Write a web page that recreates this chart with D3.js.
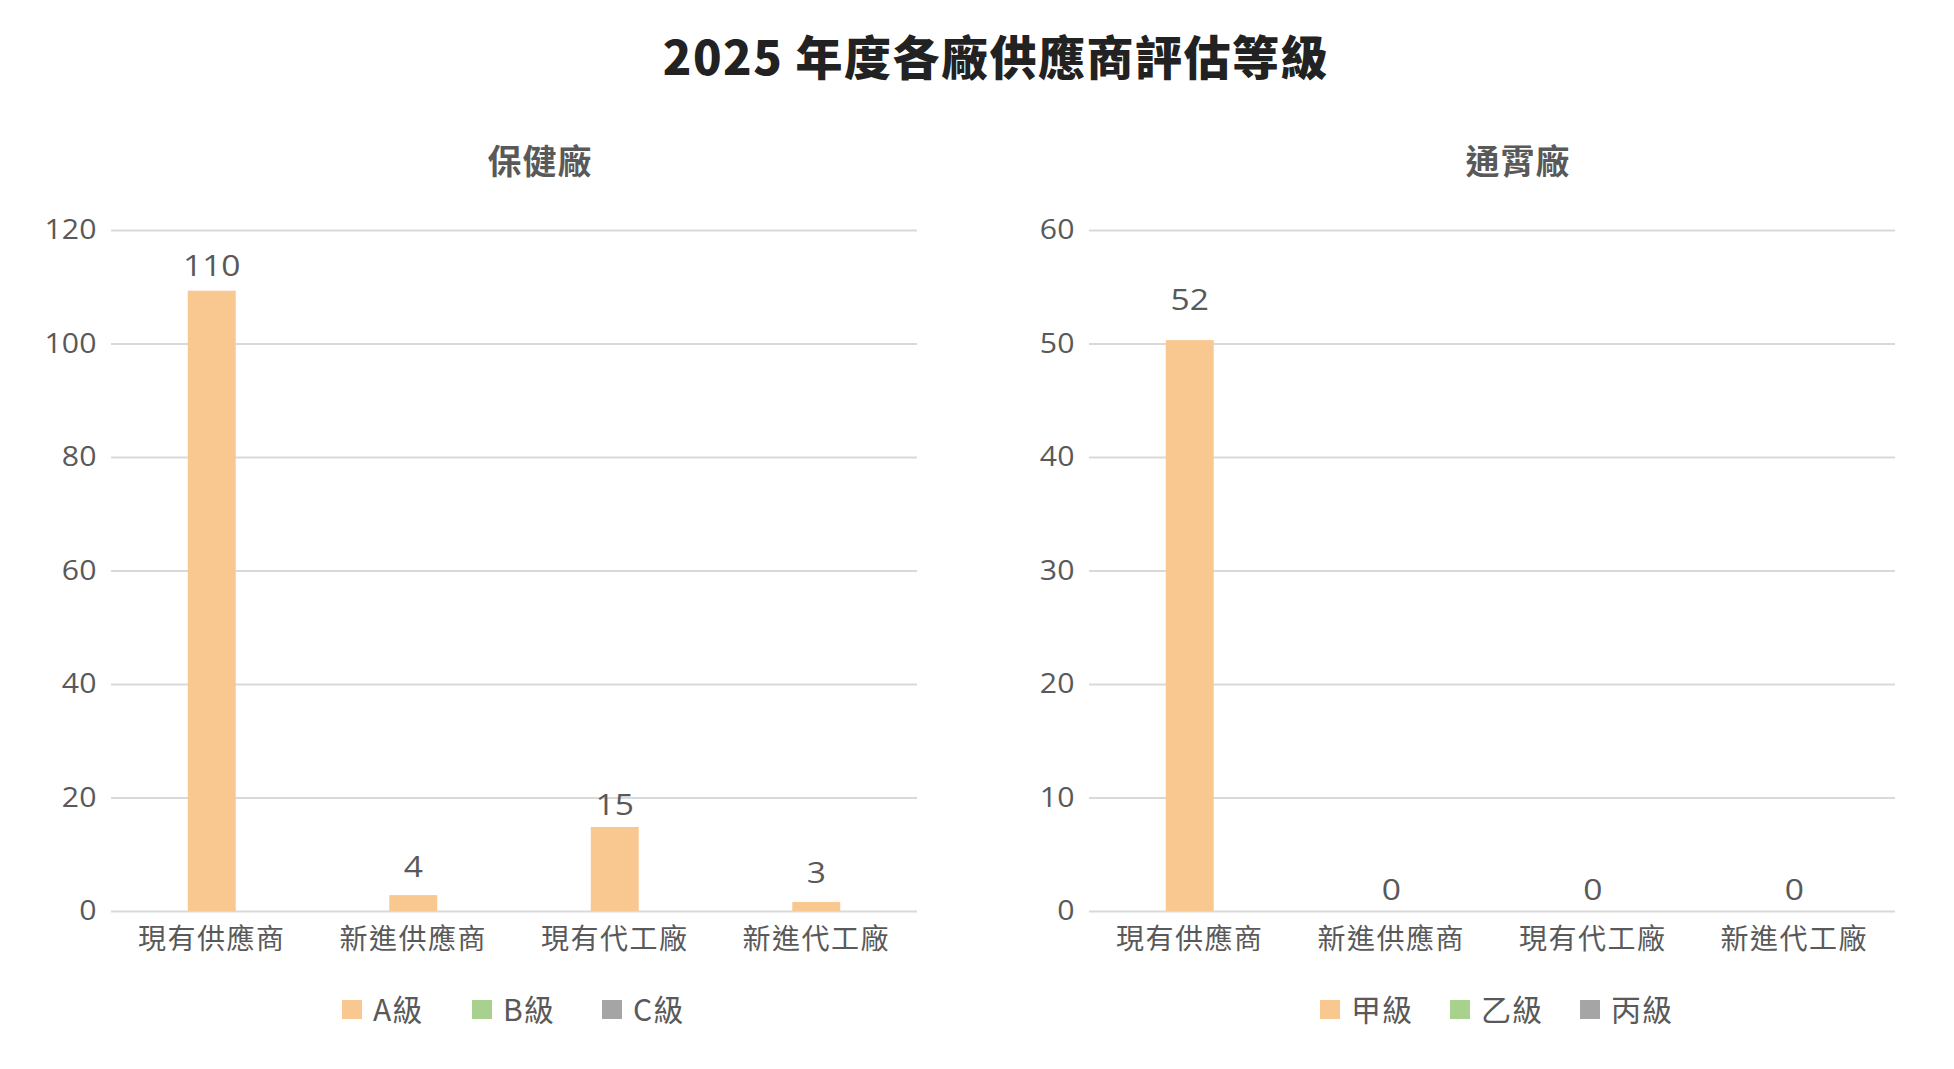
<!DOCTYPE html>
<html>
<head>
<meta charset="utf-8">
<script src="https://cdn.jsdelivr.net/npm/d3@7"></script>
<style>
  html, body { margin: 0; padding: 0; background: #fff; }
  svg { display: block; }
</style>
</head>
<body>
<svg width="1954" height="1069"></svg>
<script>
var categories = ["現有供應商", "新進供應商", "現有代工廠", "新進代工廠"];

// 保健廠
var baojianSeries = ["A級", "B級", "C級"];
var baojianA = [109.3, 2.8, 14.8, 1.6];   // bar heights as drawn
var baojianB = [0, 0, 0, 0];
var baojianC = [0, 0, 0, 0];
var baojianLabels = [110, 4, 15, 3];      // printed values
var baojianTicks = [0, 20, 40, 60, 80, 100, 120];

// 通霄廠
var tongxiaoSeries = ["甲級", "乙級", "丙級"];
var tongxiaoA = [50.3, 0, 0, 0];
var tongxiaoB = [0, 0, 0, 0];
var tongxiaoC = [0, 0, 0, 0];
var tongxiaoLabels = [52, 0, 0, 0];
var tongxiaoTicks = [0, 10, 20, 30, 40, 50, 60];

;(function(){

    var svg = d3.select("svg");
    var colors = ["#F8C890", "#A9D18E", "#A5A5A5"];
    var textColor = "#595959";
    var cjk = "'Noto Sans CJK TC', 'Noto Sans', sans-serif";
    var num = "'Open Sans', 'Noto Sans', sans-serif";
    var NUM_SX = 1.12;   // digits in the picture are drawn a bit wide

    svg.append("text")
        .attr("x", 996)
        .attr("y", 75)
        .attr("text-anchor", "middle")
        .attr("font-family", cjk)
        .attr("font-weight", 900)
        .attr("font-size", 47)
        .attr("letter-spacing", 1.5)
        .attr("fill", "#222")
        .text("2025 年度各廠供應商評估等級");

    function drawPanel(opt){
        var margin = {left: opt.left, top: 230},
            width = 806,
            height = 681,
            g = svg.append("g").attr("transform", "translate(" + margin.left + "," + margin.top + ")");

        var rows = categories.map(function(c, i){
            var r = {category: c};
            opt.series.forEach(function(s, j){ r[s] = opt.values[j][i]; });
            return r;
        });
        var stacked = d3.stack().keys(opt.series)(rows);

        var x = d3.scaleBand()
            .domain(categories)
            .range([0, width])
            .paddingInner(0.762)
            .paddingOuter(0.381);

        var y = d3.scaleLinear()
            .domain([0, d3.max(opt.ticks)])
            .range([height, 0]);

        // 背景線 + y軸
        var yAxis = g.append("g")
            .call(d3.axisLeft(y)
                .tickValues(opt.ticks)
                .tickSize(-width)
                .tickPadding(13));
        yAxis.select(".domain").remove();
        yAxis.selectAll(".tick line")
            .attr("stroke", "#D9D9D9")
            .attr("stroke-width", 2);
        yAxis.selectAll(".tick text")
            .attr("font-family", num)
            .attr("font-size", 27)
            .attr("fill", textColor)
            .attr("transform", "scale(" + NUM_SX + ",1)");

        // x軸
        var xAxis = g.append("g")
            .attr("transform", "translate(0," + height + ")")
            .call(d3.axisBottom(x).tickSize(0).tickPadding(18));
        xAxis.select(".domain").remove();
        xAxis.selectAll(".tick text")
            .attr("font-family", cjk)
            .attr("font-size", 28)
            .attr("letter-spacing", 1.5)
            .attr("fill", textColor);

        g.selectAll(".layer")
            .data(stacked)
            .enter().append("g")
            .attr("class", "layer")
            .attr("fill", function(d, i){ return colors[i]; })
            .selectAll("rect")
            .data(function(d){ return d; })
            .enter().append("rect")
            .attr("x", function(d){ return x(d.data.category); })
            .attr("width", x.bandwidth())
            .attr("y", function(d){ return y(d[1]); })
            .attr("height", function(d){ return y(d[0]) - y(d[1]); });

        // 數值標籤
        g.selectAll(".val")
            .data(opt.labels)
            .enter().append("text")
            .attr("class", "val")
            .attr("transform", function(d, i){
                return "translate(" + (x(categories[i]) + x.bandwidth() / 2) + "," + (y(d) - 11) + ") scale(" + NUM_SX + ",1)";
            })
            .attr("text-anchor", "middle")
            .attr("font-family", num)
            .attr("font-size", 30)
            .attr("fill", textColor)
            .text(function(d){ return d; });

        // 小標題
        svg.append("text")
            .attr("x", margin.left + width / 2 + 26)
            .attr("y", 174)
            .attr("text-anchor", "middle")
            .attr("font-family", cjk)
            .attr("font-weight", 700)
            .attr("font-size", 34)
            .attr("letter-spacing", 1)
            .attr("fill", textColor)
            .text(opt.title);

        // 圖例
        var step = 130,
            total = step * (opt.series.length - 1) + 84,
            legendX = margin.left + width / 2 - total / 2;
        var legend = svg.append("g")
            .attr("transform", "translate(" + legendX + ",1000)");
        opt.series.forEach(function(s, i){
            var item = legend.append("g").attr("transform", "translate(" + (i * step) + ",0)");
            item.append("rect")
                .attr("width", 20)
                .attr("height", 19)
                .attr("fill", colors[i]);
            item.append("text")
                .attr("x", 31)
                .attr("y", 21)
                .attr("font-family", cjk)
                .attr("font-size", 30)
                .attr("letter-spacing", 1)
                .attr("fill", textColor)
                .text(s);
        });
    }

    drawPanel({
        title: "保健廠",
        left: 111,
        series: baojianSeries,
        values: [baojianA, baojianB, baojianC],
        labels: baojianLabels,
        ticks: baojianTicks
    });

    drawPanel({
        title: "通霄廠",
        left: 1089,
        series: tongxiaoSeries,
        values: [tongxiaoA, tongxiaoB, tongxiaoC],
        labels: tongxiaoLabels,
        ticks: tongxiaoTicks
    });
}());
</script>
</body>
</html>
